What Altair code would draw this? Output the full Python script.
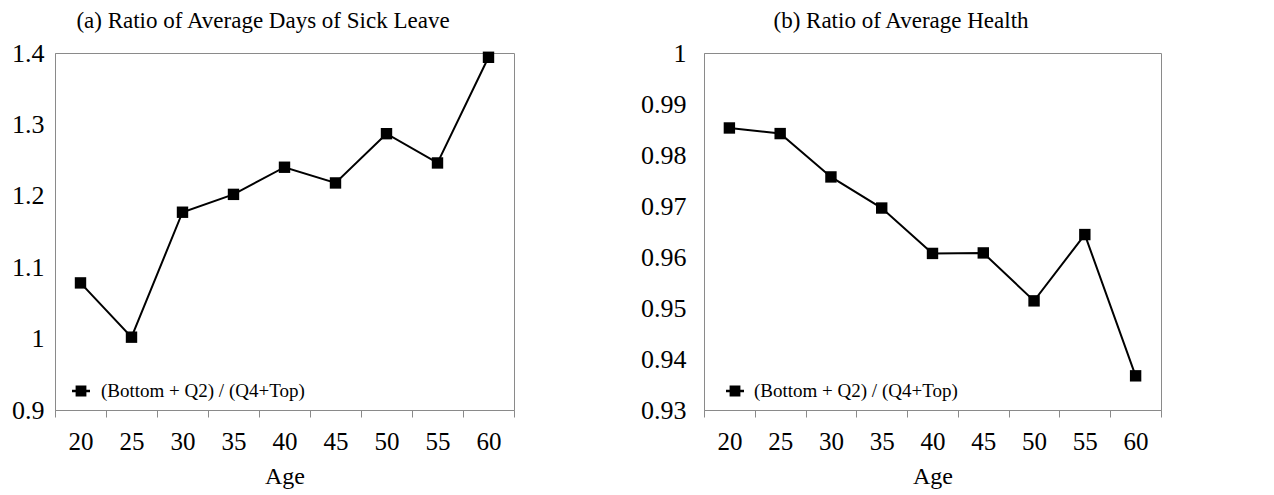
import altair as alt
import pandas as pd

ages = [20, 25, 30, 35, 40, 45, 50, 55, 60]
sick_ratio = [1.078, 1.002, 1.177, 1.202, 1.240, 1.218, 1.287, 1.246, 1.394]
health_ratio = [0.9853, 0.9842, 0.9757, 0.9696, 0.9607, 0.9608, 0.9514, 0.9644, 0.9367]
series_name = "(Bottom + Q2) / (Q4+Top)"
sick_ticks = [0.9, 1.0, 1.1, 1.2, 1.3, 1.4]
health_ticks = [0.93, 0.94, 0.95, 0.96, 0.97, 0.98, 0.99, 1.0]

FONT = "Liberation Serif"
GRAY = "#8a8a8a"
LEGEND_PATH = "M-1,-0.13H-0.6V-0.6H0.6V-0.13H1V0.13H0.6V0.6H-0.6V0.13H-1Z"


def panel(values, domain, ticks, title, width, ypad, legx, laboff):
    df = pd.DataFrame({"age": ages, "ratio": values, "series": [series_name] * len(ages)})
    x = alt.X(
        "age:O",
        scale=alt.Scale(type="band", paddingInner=0, paddingOuter=0),
        axis=alt.Axis(
            title="Age", labelAngle=0, tickBand="extent", ticks=True, tickSize=7,
            tickColor=GRAY, domainColor=GRAY, labelFontSize=25, labelPadding=12,
            titleFontSize=24, titleFontWeight="normal", titlePadding=10,
            labelFont=FONT, titleFont=FONT, labelColor="black", titleColor="black",
        ),
    )
    y = alt.Y(
        "ratio:Q",
        scale=alt.Scale(domain=domain, nice=False, zero=False),
        axis=alt.Axis(
            title=None, values=ticks, format="~g", ticks=False, grid=False,
            domainColor=GRAY, labelFontSize=26, labelPadding=ypad, labelFont=FONT,
            labelColor="black",
        ),
    )
    line = alt.Chart(df).mark_line(color="black", strokeWidth=2).encode(x=x, y=y)
    pts = alt.Chart(df).mark_point(shape="square", filled=True, size=130, opacity=1).encode(
        x=x,
        y=y,
        color=alt.Color(
            "series:N",
            scale=alt.Scale(range=["black"]),
            legend=alt.Legend(
                title=None, orient="none", legendX=legx, legendY=328, padding=0,
                symbolType=LEGEND_PATH, symbolSize=324, symbolFillColor="black",
                symbolOpacity=1, labelFont=FONT, labelFontSize=19, labelColor="black",
                labelOffset=laboff, labelLimit=400,
            ),
        ),
    )
    return alt.layer(line, pts).properties(
        width=width,
        height=357,
        title=alt.TitleParams(
            title, frame="bounds", anchor="middle", fontSize=23, font=FONT,
            fontWeight="normal", color="black", offset=7,
        ),
    )


left = panel(sick_ratio, [0.9, 1.4], sick_ticks,
             "(a) Ratio of Average Days of Sick Leave", 459, 11, 16, 10)
right = panel(health_ratio, [0.93, 1.0], health_ticks,
              "(b) Ratio of Average Health", 457, 18, 21, 9)

chart = alt.hconcat(left, right, spacing=125).resolve_scale(
    color="independent"
).resolve_legend(color="independent").configure(
    padding={"left": 11, "top": 9, "right": 0, "bottom": 0},
    background="white",
).configure_view(stroke=GRAY, strokeWidth=1)

chart.save("out.html", embed_options={"renderer": "svg", "actions": False})
